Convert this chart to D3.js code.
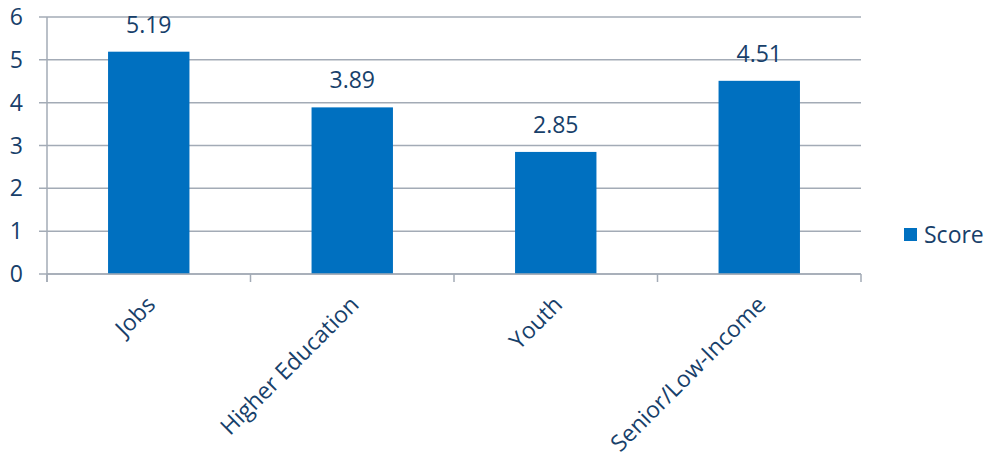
<!DOCTYPE html>
<html><head><meta charset="utf-8">
<script src="https://cdn.jsdelivr.net/npm/d3@7"></script>
<style>body{margin:0;background:#fff}text{font-family:"Open Sans","Liberation Sans",sans-serif}</style>
</head><body><svg id="c" width="984" height="462"></svg>
<script>
const categories = ["Jobs","Higher Education","Youth","Senior/Low-Income"];
const scores = [5.19, 3.89, 2.85, 4.51];
const yTicks = [0,1,2,3,4,5,6];
const seriesName = "Score";

(function(){
const svg = d3.select("#c");
const mLeft = 47, mRight = 861, mTop = 17, mBottom = 274;
const textColor = "#17406a", gridColor = "#a3abb6", barColor = "#0070c0";
const fs = 23;

const x = d3.scaleBand().domain(categories).range([mLeft, mRight]).paddingInner(0).paddingOuter(0);
const y = d3.scaleLinear().domain([0, 6]).range([mBottom, mTop]);

svg.append("g").selectAll("line").data(yTicks).join("line")
  .attr("x1", mLeft - 8).attr("x2", mRight).attr("y1", d => y(d)).attr("y2", d => y(d))
  .attr("stroke", gridColor).attr("stroke-width", 1.5);
svg.append("line").attr("x1", mLeft).attr("x2", mLeft).attr("y1", mTop).attr("y2", mBottom + 8)
  .attr("stroke", gridColor).attr("stroke-width", 1.5);
const bounds = categories.map(c => x(c)).concat([mRight]);
svg.append("g").selectAll("line").data(bounds).join("line")
  .attr("x1", d => d).attr("x2", d => d).attr("y1", mBottom).attr("y2", mBottom + 8)
  .attr("stroke", gridColor).attr("stroke-width", 1.5);
svg.append("g").selectAll("text").data(yTicks).join("text")
  .attr("x", 23).attr("y", d => y(d)).attr("dy", "0.35em").attr("text-anchor", "end")
  .attr("font-size", fs).attr("fill", textColor).text(d => d);

const bw = x.bandwidth() * 0.4;
const data = categories.map((c, i) => ({c, v: scores[i]}));
svg.append("g").selectAll("rect").data(data).join("rect")
  .attr("x", d => x(d.c) + x.bandwidth()/2 - bw/2).attr("width", bw)
  .attr("y", d => y(d.v)).attr("height", d => y(0) - y(d.v)).attr("fill", barColor);
svg.append("line").attr("x1", mLeft).attr("x2", mRight).attr("y1", y(0)).attr("y2", y(0))
  .attr("stroke", gridColor).attr("stroke-width", 1.5);
svg.append("g").selectAll("text").data(data).join("text")
  .attr("x", d => x(d.c) + x.bandwidth()/2).attr("y", d => y(d.v) - 19)
  .attr("text-anchor", "middle").attr("font-size", fs).attr("fill", textColor)
  .text(d => d.v.toFixed(2));
svg.append("g").selectAll("text").data(categories).join("text")
  .attr("transform", d => `translate(${x(d) + x.bandwidth()/2 + 8},${mBottom + 32}) rotate(-45)`)
  .attr("text-anchor", "end").attr("font-size", fs).attr("fill", textColor).text(d => d);

svg.append("rect").attr("x", 904).attr("y", 228).attr("width", 13).attr("height", 13).attr("fill", barColor);
svg.append("text").attr("x", 924).attr("y", 235).attr("dy", "0.35em").attr("font-size", fs)
  .attr("fill", textColor).text(seriesName);
})();
</script></body></html>
